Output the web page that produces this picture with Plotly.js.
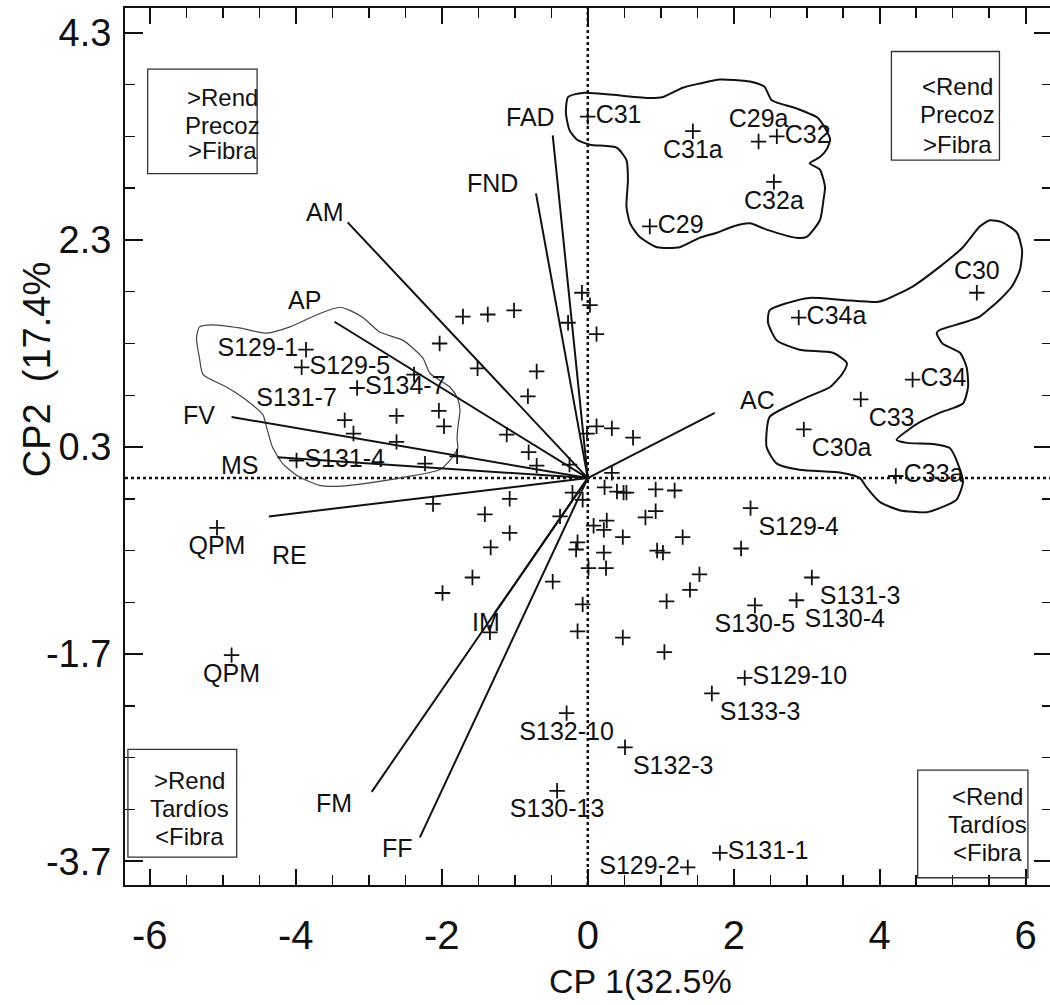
<!DOCTYPE html>
<html>
<head>
<meta charset="utf-8">
<script src="https://cdn.plot.ly/plotly-3.0.1.min.js"></script>
<style>
html,body{margin:0;padding:0;background:#fff;overflow:hidden;}
#chart{width:1056px;height:1005px;}
</style>
</head>
<body>
<div id="chart"></div>
<script>
// ---- Axis ticks ----
const xTickVals = [-6,-4,-2,0,2,4,6];
const xTickText = ["-6","-4","-2","0","2","4","6"];
const yTickVals = [4.3,2.3,0.3,-1.7,-3.7];
const yTickText = ["4.3","2.3","0.3","-1.7","-3.7"];

// ---- Labelled genotypes ----
const labNames = ["C31","C31a","C29a","C32","C32a","C29","C30","C34a","C34","C33","C30a","C33a",
  "S129-4","S131-3","S130-4","S130-5","S129-10","S133-3","S131-1","S129-2","S132-10","S132-3","S130-13",
  "QPM","QPM","S129-1","S129-5","S134-7","S131-7","S131-4"];
const labX = [0.00,1.44,2.34,2.59,2.55,0.85,5.33,2.89,4.45,3.74,2.96,4.22,
  2.23,3.07,2.86,2.29,2.15,1.70,1.81,1.37,-0.29,0.51,-0.42,
  -5.08,-4.88,-3.86,-3.92,-3.16,-3.33,-3.99];
const labY = [3.49,3.35,3.25,3.30,2.86,2.43,1.79,1.55,0.95,0.76,0.47,0.02,
  -0.29,-0.96,-1.18,-1.23,-1.93,-2.08,-3.62,-3.76,-2.27,-2.60,-3.02,
  -0.48,-1.71,1.24,1.07,0.87,0.56,0.17];
const labAnchor = ["middle right","bottom center","top center","middle right","bottom center","middle right",
  "top center","middle right","middle right","bottom right","bottom right","middle right",
  "bottom right","bottom right","bottom right","bottom center","middle right","bottom right","middle right","middle left",
  "bottom center","bottom right","bottom center",
  "bottom center","bottom center","middle left","middle right","middle right","top left","middle right"];

// ---- Unlabelled genotypes ----
const ptX = [-1.71,-1.37,-1.01,-0.08,0.03,-0.27,0.12,-2.03,-2.38,-1.51,-0.70,-0.82,-2.04,-1.97,-2.62,-3.21,-2.62,
  -1.11,-0.81,-0.70,-1.79,-2.23,-0.25,0.12,0.33,0.62,-0.01,0.33,0.23,0.40,0.49,0.53,0.93,1.19,-0.21,-0.07,
  -1.07,-2.12,-1.41,-0.38,0.79,0.93,0.08,0.26,0.22,0.48,1.30,-1.07,-1.33,-0.14,-0.16,0.22,0.95,1.03,0.01,0.25,
  -1.58,-0.48,-1.99,1.08,1.40,1.53,2.10,-0.07,-1.34,-0.14,0.48,1.05];
const ptY = [1.56,1.58,1.62,1.79,1.67,1.50,1.39,1.30,1.00,1.06,1.03,0.79,0.65,0.50,0.60,0.43,0.35,
  0.42,0.25,0.12,0.21,0.14,0.13,0.50,0.48,0.39,0.43,0.05,-0.09,-0.13,-0.14,-0.14,-0.11,-0.12,-0.14,-0.21,
  -0.20,-0.25,-0.35,-0.37,-0.38,-0.32,-0.46,-0.41,-0.50,-0.57,-0.57,-0.53,-0.67,-0.62,-0.69,-0.72,-0.70,-0.72,-0.87,-0.87,
  -0.96,-1.00,-1.11,-1.19,-1.08,-0.93,-0.68,-1.22,-1.49,-1.48,-1.54,-1.68];

// ---- Variable vectors ----
const varNames = ["FAD","FND","AM","AP","FV","MS","RE","AC","IM","FM","FF"];
const varX = [-0.48,-0.71,-3.29,-3.47,-4.88,-4.25,-4.37,1.74,-1.27,-2.96,-2.30];
const varY = [3.31,2.75,2.47,1.51,0.59,0.20,-0.37,0.63,-1.30,-3.03,-3.47];
const varLabX = [-0.79,-1.30,-3.60,-3.88,-5.32,-4.77,-4.08,2.32,-1.40,-3.47,-2.60];
const varLabY = [3.49,2.85,2.57,1.72,0.61,0.13,-0.74,0.75,-1.39,-3.14,-3.57];

// ---- Cluster outlines ----
const hullTopX = [-0.27,-0.07,0.85,1.03,1.30,1.53,1.81,2.22,2.42,2.52,2.86,3.15,3.25,3.32,3.27,3.18,3.04,3.18,3.25,3.23,3.18,3.00,2.86,2.45,2.22,1.99,1.77,1.53,1.26,0.95,0.71,0.58,0.53,0.55,0.53,0.40,0.03,-0.15,-0.25,-0.30,-0.27];
const hullTopY = [3.68,3.72,3.67,3.68,3.77,3.81,3.85,3.83,3.78,3.65,3.57,3.48,3.38,3.27,3.17,3.10,3.04,2.98,2.81,2.69,2.49,2.33,2.32,2.40,2.46,2.43,2.37,2.32,2.23,2.23,2.33,2.46,2.62,2.88,3.07,3.19,3.22,3.27,3.36,3.53,3.68];
const hullRightX = [5.51,5.68,5.88,5.95,5.92,5.81,5.64,5.51,5.37,5.14,4.82,4.78,4.86,5.10,5.19,5.21,5.14,4.82,4.55,4.38,4.23,4.37,4.73,4.96,5.07,5.14,5.05,4.82,4.64,4.27,4.00,3.82,3.73,3.49,2.90,2.59,2.45,2.49,2.73,3.00,3.32,3.49,3.55,3.36,2.90,2.59,2.47,2.49,2.73,3.04,3.49,3.96,4.07,4.45,4.82,5.14,5.37,5.51];
const hullRightY = [2.49,2.47,2.37,2.20,2.01,1.85,1.72,1.64,1.56,1.50,1.43,1.40,1.30,1.21,1.07,0.88,0.72,0.63,0.54,0.46,0.37,0.34,0.33,0.29,0.14,-0.04,-0.21,-0.29,-0.33,-0.31,-0.23,-0.09,0.00,0.05,0.08,0.14,0.30,0.59,0.69,0.78,0.88,1.01,1.11,1.21,1.24,1.33,1.50,1.62,1.69,1.74,1.72,1.70,1.72,1.85,2.04,2.23,2.43,2.49];
const hullLeftX = [-5.32,-5.14,-4.77,-4.40,-4.08,-3.67,-3.40,-3.26,-3.08,-2.85,-2.53,-2.26,-2.16,-1.89,-1.79,-1.75,-1.78,-1.79,-1.78,-1.89,-2.03,-2.58,-3.26,-3.49,-3.67,-3.95,-4.18,-4.32,-4.40,-4.45,-4.73,-4.95,-5.27,-5.32,-5.36,-5.32];
const hullLeftY = [1.46,1.48,1.45,1.40,1.46,1.59,1.65,1.62,1.55,1.41,1.33,1.16,1.01,0.88,0.78,0.66,0.49,0.37,0.29,0.17,0.08,0.00,-0.07,-0.08,-0.07,0.01,0.14,0.30,0.49,0.61,0.78,0.88,1.00,1.16,1.35,1.46];

// ---- Quadrant note boxes ----
const boxX0 = [-6.03,4.16,-6.30,4.52];
const boxX1 = [-4.53,5.64,-4.81,6.03];
const boxY0 = [2.94,3.07,-3.66,-3.86];
const boxY1 = [3.95,4.12,-2.62,-2.82];
const boxLines = [[">Rend","Precoz",">Fibra"],["<Rend","Precoz",">Fibra"],[">Rend","Tardíos","<Fibra"],["<Rend","Tardíos","<Fibra"]];
const boxTextX = [-5.01,5.07,-5.45,5.47];
const boxTextY = [[3.68,3.41,3.16],[3.78,3.51,3.22],[-2.92,-3.19,-3.46],[-3.08,-3.35,-3.62]];

const FONT = "Liberation Sans, Arial, Helvetica, sans-serif";
const INK = "#111";

// build vector segments
const vx = [], vy = [];
varX.forEach((x,i)=>{ vx.push(0, x, null); vy.push(0, varY[i], null); });

const crossMarker = {symbol:"cross-thin-open", size:11, color:INK, line:{color:INK, width:1.8}};

const traces = [
  {x: hullTopX, y: hullTopY, mode:"lines", line:{color:INK, width:2, shape:"spline", smoothing:0.6}, hoverinfo:"skip"},
  {x: hullRightX, y: hullRightY, mode:"lines", line:{color:INK, width:2, shape:"spline", smoothing:0.6}, hoverinfo:"skip"},
  {x: hullLeftX, y: hullLeftY, mode:"lines", line:{color:"#444", width:1.2, shape:"spline", smoothing:0.6}, hoverinfo:"skip"},
  {x: vx, y: vy, mode:"lines", line:{color:INK, width:2}, hoverinfo:"skip"},
  {x: ptX, y: ptY, mode:"markers", marker:crossMarker},
  {x: labX, y: labY, mode:"markers+text", text: labNames, textposition: labAnchor,
   textfont:{family:FONT, size:25, color:INK}, marker:crossMarker}
];

const shapes = [
  {type:"line", xref:"x", yref:"paper", x0:0, x1:0, y0:0, y1:1, line:{color:INK, width:2.5, dash:"dot"}, layer:"below"},
  {type:"line", xref:"paper", yref:"y", x0:0, x1:1, y0:0, y1:0, line:{color:INK, width:2.5, dash:"dot"}, layer:"below"}
];
boxX0.forEach((x0,i)=>{
  shapes.push({type:"rect", xref:"x", yref:"y", x0:x0, x1:boxX1[i], y0:boxY0[i], y1:boxY1[i], line:{color:"#333", width:1.3}, fillcolor:"rgba(0,0,0,0)"});
});

const annotations = [];
varNames.forEach((n,i)=>{
  annotations.push({x:varLabX[i], y:varLabY[i], xref:"x", yref:"y", text:n, showarrow:false,
    font:{family:FONT, size:25, color:INK}});
});
boxLines.forEach((lines,i)=>{
  lines.forEach((t,j)=>{
    annotations.push({x:boxTextX[i], y:boxTextY[i][j], xref:"x", yref:"y", text:t, showarrow:false,
      font:{family:FONT, size:24, color:INK}});
  });
});
annotations.push({x:-0.095, y:0.588, xref:"paper", yref:"paper", xanchor:"center", yanchor:"middle",
  text:"CP2  (17.4%", textangle:-90, showarrow:false, font:{family:FONT, size:38, color:INK}});
annotations.push({x:0.556, y:-0.11, xref:"paper", yref:"paper", xanchor:"center", yanchor:"middle",
  text:"CP 1(32.5%", showarrow:false, font:{family:FONT, size:34, color:INK}});

const layout = {
  width:1056, height:1005,
  margin:{l:125, r:4, t:8, b:120},
  paper_bgcolor:"#fff", plot_bgcolor:"#fff",
  showlegend:false,
  font:{family:FONT, color:INK},
  xaxis:{range:[-6.34,6.36], tickmode:"array", tickvals:xTickVals, ticktext:xTickText,
    ticks:"inside", ticklen:16, tickwidth:2, tickcolor:INK,
    minor:{dtick:0.5, tick0:0, ticks:"inside", ticklen:10, tickwidth:1.5, tickcolor:INK},
    showline:true, linewidth:2, linecolor:INK, mirror:"ticks", showgrid:false, zeroline:false,
    tickfont:{family:FONT, size:40, color:INK}, ticklabelstandoff:14},
  yaxis:{range:[-3.93,4.54], tickmode:"array", tickvals:yTickVals, ticktext:yTickText,
    ticks:"inside", ticklen:18, tickwidth:2, tickcolor:INK,
    minor:{dtick:0.5, tick0:0.3, ticks:"inside", ticklen:10, tickwidth:1.5, tickcolor:INK},
    showline:true, linewidth:2, linecolor:INK, mirror:"ticks", showgrid:false, zeroline:false,
    tickfont:{family:FONT, size:38, color:INK}, ticklabelstandoff:4},
  shapes:shapes,
  annotations:annotations
};

Plotly.newPlot("chart", traces, layout, {staticPlot:true, displayModeBar:false});
</script>
</body>
</html>
